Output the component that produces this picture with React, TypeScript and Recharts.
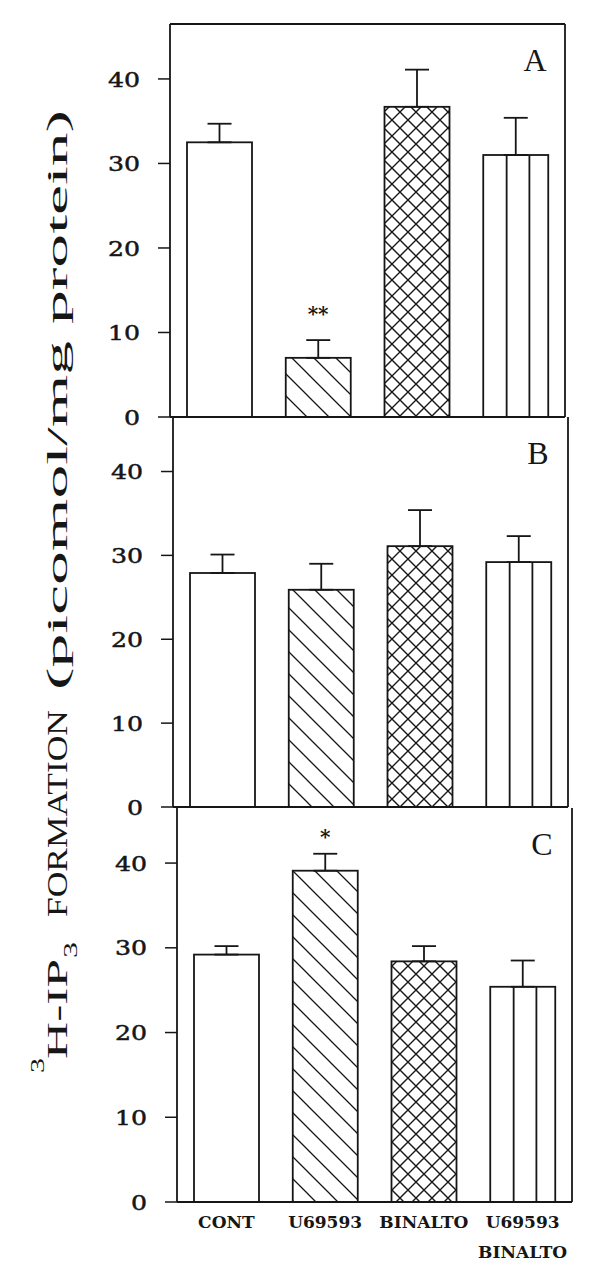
import React from "react";
import {
  BarChart,
  Bar,
  XAxis,
  YAxis,
  ErrorBar,
  ReferenceLine,
  ReferenceDot,
} from "recharts";

const CATEGORIES = ["CONT", "U69593", "BINALTO", "U69593\nBINALTO"];
const Y_TICKS = [0, 10, 20, 30, 40];
const Y_MAX = 46.5;

// panel A
const MEANS_A = [32.5, 7.0, 36.7, 31.0];
const ERR_A = [2.2, 2.1, 4.4, 4.4];
const SIG_A = ["", "**", "", ""];
// panel B
const MEANS_B = [27.9, 25.9, 31.1, 29.2];
const ERR_B = [2.2, 3.1, 4.3, 3.1];
const SIG_B = ["", "", "", ""];
// panel C
const MEANS_C = [29.2, 39.1, 28.4, 25.4];
const ERR_C = [1.0, 2.0, 1.8, 3.1];
const SIG_C = ["", "*", "", ""];

const INK = "#161616";

interface PanelProps {
  id: string;
  letter: string;
  means: number[];
  errs: number[];
  sigs: string[];
  top: number;
  marginTop: number;
  plotH: number;
  axisLeft: number;
  axisRight: number;
  showX: boolean;
  starOffset: number;
  frameTop?: boolean;
}

const YTick = ({ x, y, payload }: any) => (
  <text
    transform={`translate(${x},${y}) scale(1.2,1)`}
    textAnchor="end"
    dy="0.36em"
    fontFamily="DejaVu Serif"
    fontSize={21}
    fill={INK}
    stroke={INK}
    strokeWidth={0.5}
  >
    {payload.value}
  </text>
);

const XTick = ({ x, y, payload }: any) => {
  const lines = String(payload.value).split("\n");
  return (
    <text
      x={x}
      y={y}
      textAnchor="middle"
      fontFamily="DejaVu Serif"
      fontWeight="bold"
      fontSize={17}
      fill={INK}
    >
      {lines.map((l, i) => (
        <tspan key={i} x={x} dy={i === 0 ? 26 : 30}>
          {l}
        </tspan>
      ))}
    </text>
  );
};

function Panel(p: PanelProps) {
  const data = CATEGORIES.map((name, i) => ({
    name,
    mean: p.means[i],
    errRange: [0, p.errs[i]],
  }));
  const xh = p.showX ? 60 : 1;
  const mb = p.showX ? 10 : 15;
  const height = p.marginTop + p.plotH + xh + mb;
  const fills = ["#fff", `url(#diag-${p.id})`, `url(#cross-${p.id})`, "#fff"];

  const shape = (props: any) => {
    const { x, y, width, height: h, index } = props;
    return (
      <g>
        <rect
          x={x}
          y={y}
          width={width}
          height={h}
          fill={fills[index]}
          stroke={INK}
          strokeWidth={1.8}
        />
        {index === 3 &&
          [0.36, 0.71].map((f) => (
            <line
              key={f}
              x1={x + width * f}
              x2={x + width * f}
              y1={y}
              y2={y + h}
              stroke={INK}
              strokeWidth={1.8}
            />
          ))}
      </g>
    );
  };

  return (
    <div style={{ position: "absolute", left: 0, top: p.top }}>
      <BarChart
        width={600}
        height={height}
        data={data}
        margin={{
          top: p.marginTop,
          right: 600 - p.axisRight - 1,
          left: p.axisLeft - 60,
          bottom: mb,
        }}
      >
        <defs>
          <pattern id={`diag-${p.id}`} patternUnits="userSpaceOnUse" width={22} height={22}>
            <rect width={22} height={22} fill="#fff" />
            <path
              d="M-2,-2 L24,24 M-2,20 L2,24 M20,-2 L24,2"
              stroke={INK}
              strokeWidth={1.3}
            />
          </pattern>
          <pattern id={`cross-${p.id}`} patternUnits="userSpaceOnUse" width={16} height={16}>
            <rect width={16} height={16} fill="#fff" />
            <path d="M-1,-1 L17,17 M17,-1 L-1,17" stroke={INK} strokeWidth={1.4} />
          </pattern>
        </defs>
        <XAxis
          dataKey="name"
          type="category"
          height={xh}
          axisLine={{ stroke: INK, strokeWidth: 1.8 }}
          tickLine={false}
          tickSize={0}
          tickMargin={0}
          interval={0}
          tick={p.showX ? <XTick /> : false}
        />
        <YAxis
          domain={[0, Y_MAX]}
          ticks={Y_TICKS}
          interval={0}
          width={60}
          tickSize={12}
          tickMargin={18}
          axisLine={{ stroke: INK, strokeWidth: 1.8 }}
          tickLine={{ stroke: INK, strokeWidth: 1.5 }}
          tick={<YTick />}
        />
        <YAxis
          yAxisId="right"
          orientation="right"
          width={1}
          tick={false}
          tickLine={false}
          axisLine={{ stroke: INK, strokeWidth: 1.8 }}
        />
        {p.frameTop && <ReferenceLine y={Y_MAX} stroke={INK} strokeWidth={1.8} />}
        <Bar dataKey="mean" barSize={65} shape={shape} isAnimationActive={false}>
          <ErrorBar
            dataKey="errRange"
            width={12}
            stroke={INK}
            strokeWidth={1.8}
            direction="y"
            isAnimationActive={false}
          />
        </Bar>
        {data.map((d, i) =>
          p.sigs[i] ? (
            <ReferenceDot
              key={d.name}
              x={d.name}
              y={d.mean + p.errs[i]}
              r={1}
              fill="none"
              stroke="none"
              label={{
                value: p.sigs[i],
                position: "top",
                offset: p.starOffset,
                fontSize: 20,
                fontWeight: "bold",
                fontFamily: "DejaVu Serif",
                fill: INK,
              }}
            />
          ) : null
        )}
        <text
          x={p.axisRight - 30}
          y={p.marginTop + 47}
          textAnchor="middle"
          fontFamily="Liberation Serif"
          fontSize={32}
          fill={INK}
        >
          {p.letter}
        </text>
      </BarChart>
    </div>
  );
}

export default function App() {
  return (
    <div
      style={{
        position: "absolute",
        left: 0,
        top: 0,
        width: 600,
        height: 1274,
        background: "#fff",
      }}
    >
      <svg
        width={100}
        height={1274}
        style={{ position: "absolute", left: 0, top: 0 }}
      >
        <g
          transform="translate(67,1073) rotate(-90)"
          fontFamily="Liberation Serif"
          fill={INK}
        >
          <text x={0} y={-23} fontSize={19} textLength={15} lengthAdjust="spacingAndGlyphs">
            3
          </text>
          <text x={14} y={0} fontSize={30} textLength={100} lengthAdjust="spacingAndGlyphs">
            H-IP
          </text>
          <text x={115} y={10} fontSize={19} textLength={16} lengthAdjust="spacingAndGlyphs">
            3
          </text>
          <text x={156} y={0} fontSize={30} textLength={207} lengthAdjust="spacingAndGlyphs">
            FORMATION
          </text>
          <text x={383} y={0} fontSize={30} textLength={580} lengthAdjust="spacingAndGlyphs">
            (picomol/mg protein)
          </text>
        </g>
      </svg>
      <Panel
        id="a"
        letter="A"
        means={MEANS_A}
        errs={ERR_A}
        sigs={SIG_A}
        top={0}
        marginTop={24}
        plotH={393}
        axisLeft={170}
        axisRight={565}
        showX={false}
        starOffset={18}
        frameTop
      />
      <Panel
        id="b"
        letter="B"
        means={MEANS_B}
        errs={ERR_B}
        sigs={SIG_B}
        top={407}
        marginTop={10}
        plotH={390}
        axisLeft={173}
        axisRight={568}
        showX={false}
        starOffset={10}
      />
      <Panel
        id="c"
        letter="C"
        means={MEANS_C}
        errs={ERR_C}
        sigs={SIG_C}
        top={798}
        marginTop={10}
        plotH={394}
        axisLeft={177}
        axisRight={572}
        showX
        starOffset={9}
      />
    </div>
  );
}
